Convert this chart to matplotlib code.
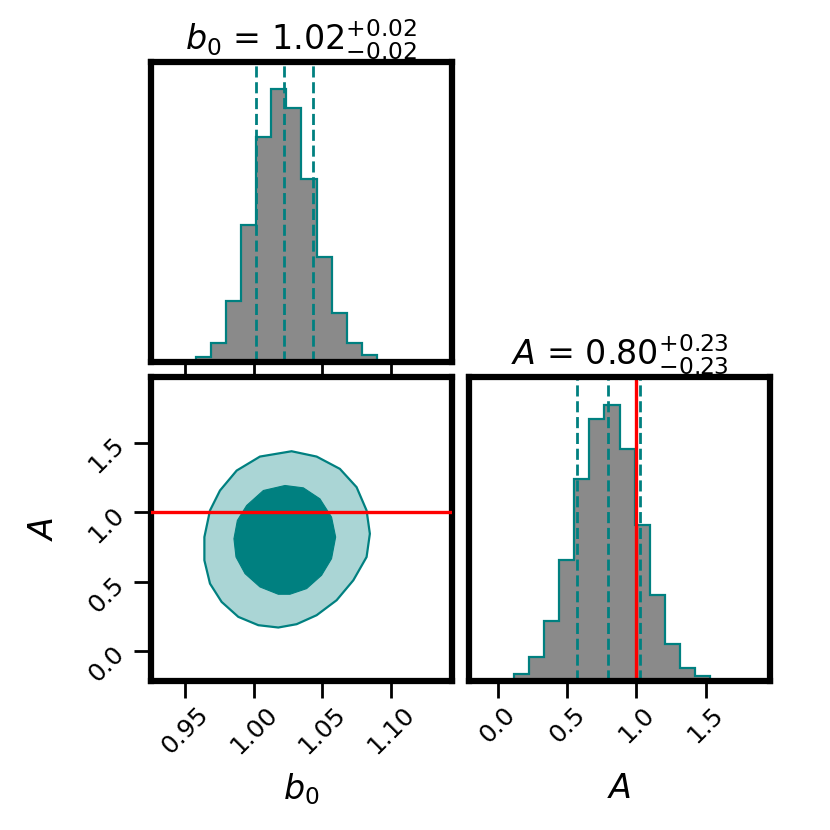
import numpy as np
import matplotlib
matplotlib.use("Agg")
import matplotlib.pyplot as plt

# ---------------- data ----------------
b0_range = (0.9247, 1.1450)
A_range = (-0.210, 1.968)

b0_counts = [0, 0, 0, 15, 57, 185, 415, 679, 825, 767, 552, 317, 149, 57, 22, 0, 0, 0, 0, 0]
A_counts = [0, 0, 0, 19, 70, 179, 362, 602, 784, 825, 692, 467, 255, 109, 39, 14, 0, 0, 0, 0]

b0_quantiles = [1.0016, 1.0220, 1.0434]
A_quantiles = [0.572, 0.797, 1.025]
A_truth = 1.0

b0_ticks = [0.95, 1.00, 1.05, 1.10]
b0_ticklabels = ["0.95", "1.00", "1.05", "1.10"]
A_ticks = [0.0, 0.5, 1.0, 1.5]
A_ticklabels = ["0.0", "0.5", "1.0", "1.5"]

b0_label = r"$b_0$"
A_label = r"$A$"
b0_title = r"$b_0$ = ${1.02}_{-0.02}^{+0.02}$"
A_title = r"$A$ = ${0.80}_{-0.23}^{+0.23}$"

# 2-D credible region outlines (b0, A)
outer_b0 = [1.0276, 1.0459, 1.0629, 1.0751, 1.0824, 1.0848, 1.0824, 1.0727, 1.0605, 1.0459,
            1.0313, 1.0179, 1.0033, 0.9887, 0.9765, 0.9680, 0.9639, 0.9639, 0.9680, 0.9753,
            0.9875, 1.0045]
outer_A = [1.4372, 1.3990, 1.3107, 1.1793, 1.0122, 0.8450, 0.6779, 0.5107, 0.3675, 0.2600,
           0.1956, 0.1717, 0.1884, 0.2481, 0.3555, 0.4869, 0.6540, 0.8212, 1.0122, 1.1554,
           1.2987, 1.3990]
inner_b0 = [1.0228, 1.0362, 1.0483, 1.0568, 1.0598, 1.0568, 1.0495, 1.0386, 1.0264, 1.0179,
            1.0045, 0.9936, 0.9870, 0.9855, 0.9880, 0.9948, 1.0070]
inner_A = [1.1913, 1.1745, 1.0958, 0.9644, 0.8212, 0.6660, 0.5466, 0.4511, 0.4105, 0.4105,
           0.4630, 0.5585, 0.6779, 0.8092, 0.9405, 1.0480, 1.1554]

# ---------------- style ----------------
teal = "#008080"
light_teal = "#aad5d5"
grey = "#8a8a8a"
spine_lw = 4.5
tick_len = 12
tick_w = 2.0
tick_fs = 18
label_fs = 24
title_fs = 24
dash = (0, (4.0, 1.7))

fig = plt.figure(figsize=(8.3, 8.3), dpi=100)

L1, R1 = 0.1816, 0.5449
L2, R2 = 0.5645, 0.9283
T1, B1 = 0.9257, 0.5635
T2, B2 = 0.5454, 0.1799

ax_b0 = fig.add_axes([L1, B1, R1 - L1, T1 - B1])
ax_2d = fig.add_axes([L1, B2, R1 - L1, T2 - B2])
ax_A = fig.add_axes([L2, B2, R2 - L2, T2 - B2])


def style(ax):
    for s in ax.spines.values():
        s.set_linewidth(spine_lw)
    ax.tick_params(direction="out", length=tick_len, width=tick_w, labelsize=tick_fs)


def draw_hist(ax, counts, rng, quantiles):
    counts = np.asarray(counts, dtype=float)
    edges = np.linspace(rng[0], rng[1], len(counts) + 1)
    nz = np.nonzero(counts)[0]
    lo, hi = nz[0], nz[-1] + 1
    ax.stairs(counts[lo:hi], edges[lo:hi + 1], fill=True, color=grey, lw=0)
    ax.stairs(counts[lo:hi], edges[lo:hi + 1], color=teal, lw=1.6)
    for q in quantiles:
        ax.axvline(q, color=teal, lw=2.0, ls=dash)
    ax.set_xlim(rng)
    ax.set_ylim(0, 1.1 * counts.max())
    ax.set_yticks([])


# top-left: b0 marginal
style(ax_b0)
draw_hist(ax_b0, b0_counts, b0_range, b0_quantiles)
ax_b0.set_xticks(b0_ticks)
ax_b0.set_xticklabels([])
ax_b0.set_title(b0_title, fontsize=title_fs)

# bottom-left: joint
style(ax_2d)
ax_2d.fill(outer_b0, outer_A, facecolor=light_teal, edgecolor=teal, lw=1.6, zorder=2)
ax_2d.fill(inner_b0, inner_A, facecolor=teal, edgecolor=teal, lw=0.8, zorder=3)
ax_2d.axhline(A_truth, color="red", lw=2.4, zorder=4)
ax_2d.set_xlim(b0_range)
ax_2d.set_ylim(A_range)
ax_2d.set_xticks(b0_ticks)
ax_2d.set_xticklabels(b0_ticklabels, rotation=45)
ax_2d.set_yticks(A_ticks)
ax_2d.set_yticklabels(A_ticklabels, rotation=45)
ax_2d.set_xlabel(b0_label, fontsize=label_fs)
ax_2d.set_ylabel(A_label, fontsize=label_fs)
ax_2d.xaxis.set_label_coords(0.5, -0.3)
ax_2d.yaxis.set_label_coords(-0.3, 0.5)

# bottom-right: A marginal
style(ax_A)
draw_hist(ax_A, A_counts, A_range, A_quantiles)
ax_A.axvline(A_truth, color="red", lw=2.4)
ax_A.set_xticks(A_ticks)
ax_A.set_xticklabels(A_ticklabels, rotation=45)
ax_A.set_xlabel(A_label, fontsize=label_fs)
ax_A.xaxis.set_label_coords(0.5, -0.3)
ax_A.set_title(A_title, fontsize=title_fs)

fig.savefig("out.png", dpi=100)
